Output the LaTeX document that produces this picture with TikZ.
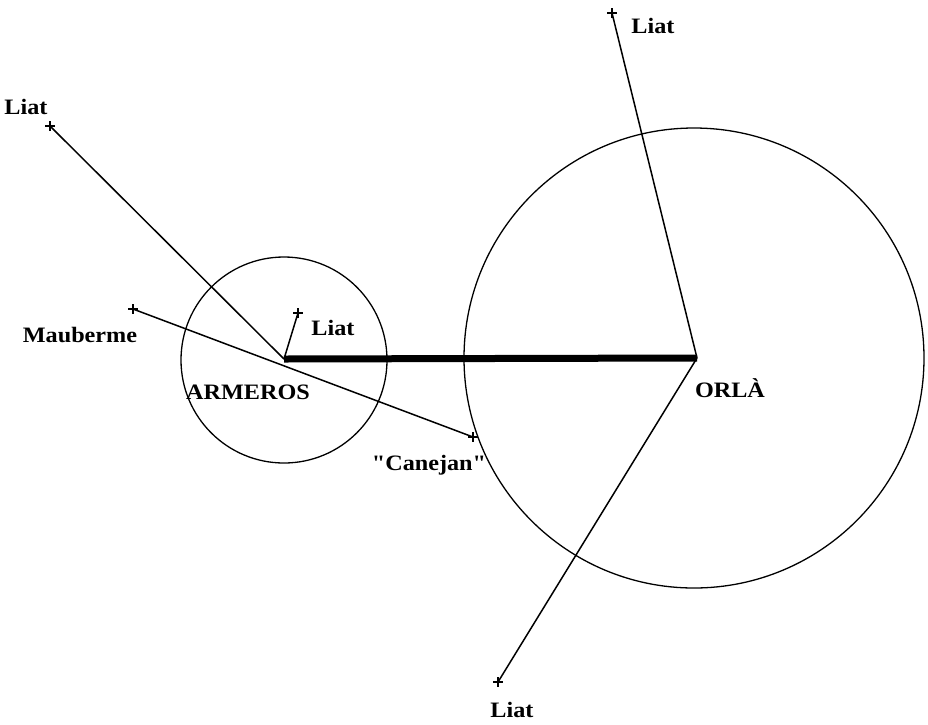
\documentclass[tikz,border=0pt]{standalone}
\usepackage{fontspec}
\setmainfont{Liberation Serif}[Ligatures=TeXOff]
\tikzset{
  px/.style={x=1pt,y=-1pt},
  lbl/.style={font=\bfseries\fontsize{22}{24}\selectfont, inner sep=0pt, xscale=1.1},
  thin/.style={line width=1.5pt},
  ring/.style={line width=1.3pt},
  link/.style={line width=7pt},
  plusmark/.pic={\draw[line width=1.8pt] (-5,0) -- (5,0) (0,-5) -- (0,5);}
}
\begin{document}
\begin{tikzpicture}[px]
\useasboundingbox (0,0) rectangle (928,724);
% centres
\coordinate (A) at (284,359);
\coordinate (O) at (697,358);
% circles
\draw[ring] (284,360) circle[radius=103];
\draw[ring] (694,358) circle[radius=230];
% end points
\coordinate (liatUL) at (50,126);
\coordinate (liatS) at (298,313);
\coordinate (maub) at (133,309);
\coordinate (canej) at (473,437);
\coordinate (liatT) at (612,13);
\coordinate (liatB) at (498,682);
% connectors
\draw[thin] (A) -- (liatUL);
\draw[thin] (A) -- (liatS);
\draw[thin] (maub) -- (canej);
\draw[thin] (O) -- (liatT);
\draw[thin] (O) -- (liatB);
\draw[link] (A) -- (O);
% marks
\foreach \p in {liatUL,liatS,maub,canej,liatT,liatB} \pic at (\p) {plusmark};
% labels
\node[lbl] (tUL) at (26,107) {Liat};
\node[lbl] (tT) at (653,26) {Liat};
\node[lbl] (tM) at (80,335) {Mauberme};
\node[lbl] (tS) at (333,328) {Liat};
\node[lbl] (tA) at (248,392) {ARMEROS};
\node[lbl] (tO) at (730,388) {ORLÀ};
\node[lbl] (tC) at (429,465) {"Canejan"};
\node[lbl] (tB) at (512,710) {Liat};
\end{tikzpicture}
\end{document}
